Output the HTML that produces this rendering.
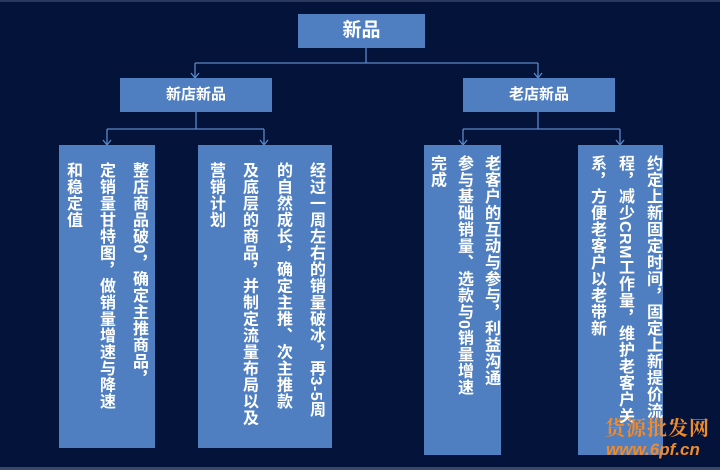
<!DOCTYPE html>
<html><head><meta charset="utf-8"><style>
body{margin:0;width:720px;height:470px;background:#03133a;position:relative;overflow:hidden;font-family:"Liberation Sans","Noto Sans CJK SC",sans-serif;}
.b{position:absolute;background:#4f7fc1;}
.h{color:#fff;font-weight:bold;text-align:center;}
.c{position:absolute;writing-mode:vertical-rl;color:#fff;font-weight:bold;font-size:16px;line-height:16px;letter-spacing:0.5px;white-space:nowrap;}
</style></head><body>
<div style="position:absolute;left:0;top:0;width:720px;height:2px;background:#2a3a5e"></div>
<div style="position:absolute;left:0;top:467px;width:720px;height:3px;background:#3a4868"></div>
<svg width="720" height="470" style="position:absolute;left:0;top:0" fill="none" stroke="#5b88c8" stroke-width="1.3">
<path d="M366 48V63M195 63H538M195 63V78M538 63V78"/>
<path d="M191 73l4 5 4-5M534 73l4 5 4-5"/>
<path d="M196 112V129M107 129H264M107 129V145M264 129V145"/>
<path d="M103 140l4 5 4-5M260 140l4 5 4-5"/>
<path d="M538 112V129M463 129H620M463 129V145M620 129V145"/>
<path d="M459 140l4 5 4-5M616 140l4 5 4-5"/>
</svg>
<div class="b h" style="left:298px;top:14px;width:127px;height:34px;line-height:34px;font-size:19px">新品</div>
<div class="b h" style="left:120px;top:78px;width:152px;height:34px;line-height:34px;font-size:15px">新店新品</div>
<div class="b h" style="left:463px;top:78px;width:152px;height:34px;line-height:34px;font-size:15px">老店新品</div>
<div class="b" style="left:59px;top:145px;width:96px;height:303px"></div>
<div class="b" style="left:198px;top:145px;width:134px;height:303px"></div>
<div class="b" style="left:424px;top:145px;width:77px;height:310px"></div>
<div class="b" style="left:578px;top:145px;width:85px;height:310px"></div>
<div class="c" style="left:130px;top:162px">整店商品破0，确定主推商品，</div>
<div class="c" style="left:97px;top:162px">定销量甘特图，做销量增速与降速</div>
<div class="c" style="left:64px;top:162px">和稳定值</div>
<div class="c" style="left:307px;top:162px">经过一周左右的销量破冰，再3-5周</div>
<div class="c" style="left:274px;top:162px">的自然成长，确定主推、次主推款</div>
<div class="c" style="left:240px;top:162px">及底层的商品，并制定流量布局以及</div>
<div class="c" style="left:207px;top:162px">营销计划</div>
<div class="c" style="left:482px;top:155px">老客户的互动与参与，利益沟通</div>
<div class="c" style="left:455px;top:155px">参与基础销量、选款与0销量增速</div>
<div class="c" style="left:428px;top:155px">完成</div>
<div class="c" style="left:644px;top:155px">约定上新固定时间，固定上新提价流</div>
<div class="c" style="left:616px;top:155px">程，减少CRM工作量，维护老客户关</div>
<div class="c" style="left:588px;top:155px">系，方便老客户以老带新</div>
<div style="position:absolute;left:605px;top:412px;color:#f08a2a;font-size:20px;font-weight:bold;font-family:'Noto Serif CJK SC',serif;letter-spacing:1px">货源批发网</div>
<div style="position:absolute;left:606px;top:440px;color:#f08a2a;font-size:17px;font-weight:bold;font-style:italic">www.6pf.cn</div>
</body></html>
